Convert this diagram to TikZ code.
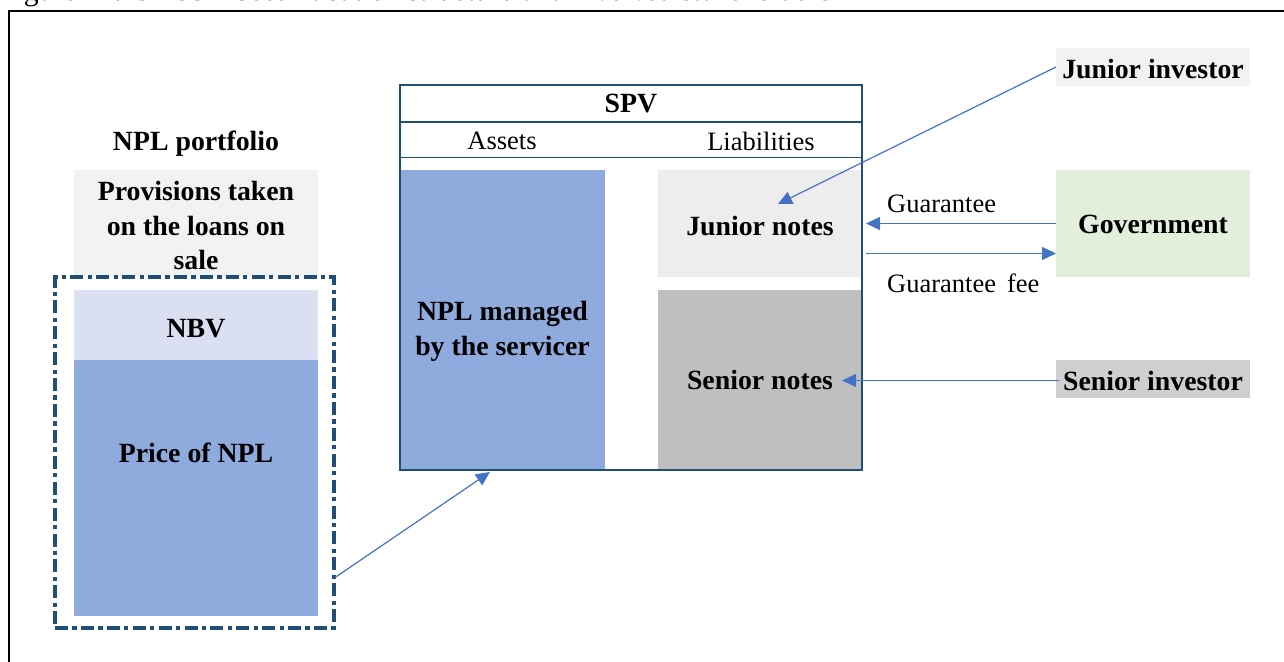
\documentclass[tikz,border=0pt]{standalone}
\usepackage{fontspec}
\setmainfont{Liberation Serif}
\usetikzlibrary{arrows.meta,calc}
\definecolor{navy}{HTML}{1F4E79}
\definecolor{arrblue}{HTML}{4472C4}
\definecolor{midblue}{HTML}{8FAADC}
\definecolor{paleblue}{HTML}{DAE0F2}
\definecolor{lgray}{HTML}{F2F2F2}
\definecolor{jgray}{HTML}{EDEDED}
\definecolor{sgray}{HTML}{BFBFBF}
\definecolor{sigray}{HTML}{D0CECE}
\definecolor{lgreen}{HTML}{E2EFDA}
\newcommand{\mysize}{\fontsize{26.5}{34.5}\selectfont}
\newcommand{\mybold}{\fontsize{27.8}{34.5}\selectfont\bfseries}
\newcommand{\lowered}[2]{\raisebox{-#1pt}[0pt][0pt]{#2}}
\tikzset{
  box/.style={anchor=north west, inner sep=0pt, outer sep=0pt, align=center, font=\mybold},
  arr/.style={draw=arrblue, line width=1.2pt, -{Triangle[length=14pt,width=13pt]}, arrblue},
  lbl/.style={inner sep=0pt, anchor=base west},
}
\begin{document}
\begin{tikzpicture}[x=1pt,y=-1pt,font=\mysize]
\useasboundingbox (0,0) rectangle (1284,661);
% caption (cut off by page top)
\node[lbl, font=\fontsize{29.7}{34}\selectfont] (cap) at (-1,0.5) {Figure 21: \textit{GACS – Securitisation structure and involved stakeholders}};
% outer frame
\draw[line width=2pt] (9,680) -- (9,11) -- (1300,11);

% NPL portfolio
\node[font=\mybold, inner sep=0pt] (nplp) at (196,144) {NPL portfolio};
\node[box, fill=lgray, minimum width=244pt, minimum height=107pt] (prov) at (74,170) {};
\node[font=\mybold, align=center, inner sep=0pt] (provt) at (196,225.5) {Provisions taken\\on the loans on\\sale};
\node[box, fill=midblue, minimum width=244pt, minimum height=326pt] (price) at (74,290) {Price of NPL};
\node[box, fill=paleblue, minimum width=244pt, minimum height=70pt] (nbv) at (74,290) {\lowered{12.2}{NBV}};
\node[box, draw=navy, line width=3.2pt, dash pattern=on 13pt off 4.3pt on 4.3pt off 4.3pt, minimum width=279pt, minimum height=351pt] (pf) at (55,277) {};

% SPV
\node[box, fill=midblue, minimum width=205pt, minimum height=300pt] (npl) at (400,170) {};
\node[font=\mybold, align=center, inner sep=0pt] (nplt) at (502.5,331.5) {NPL managed\\by the servicer};
\node[box, fill=jgray, minimum width=204pt, minimum height=107pt] (jn) at (658,170) {\lowered{11.7}{Junior notes}};
\node[box, fill=sgray, minimum width=204pt, minimum height=180pt] (sn) at (658,290) {Senior notes};
\node[box, draw=navy, line width=1.8pt, minimum width=462pt, minimum height=385pt] (spv) at (400,85) {};
\draw[navy, line width=1.8pt] (spv.west |- 0,122) -- (spv.east |- 0,122);
\draw[navy, line width=1.8pt] (spv.west |- 0,157.5) -- (spv.east |- 0,157.5);
\node[font=\mybold, inner sep=0pt] (spvt) at (631,104) {SPV};
\node[inner sep=0pt] (assets) at (502,141) {Assets};
\node[inner sep=0pt] (liab) at (761,141) {Liabilities};

% stakeholders
\node[box, fill=lgray, minimum width=194pt, minimum height=38pt] (ji) at (1056,48) {\lowered{11.2}{Junior investor}};
\node[box, fill=lgreen, minimum width=194pt, minimum height=107pt] (gov) at (1056,170) {\lowered{10.2}{Government}};
\node[box, fill=sigray, minimum width=194pt, minimum height=38pt] (si) at (1056,360) {\lowered{11.2}{Senior investor}};

% connectors
\coordinate (jtip) at (778,204);
\draw[arr] (ji.west) -- (jtip);
\coordinate (gtip) at (866,223.5);
\draw[arr] (gov.west |- gtip) -- (gtip);
\coordinate (ftail) at (866,253.5);
\draw[arr] (ftail) -- (gov.west |- ftail);
\coordinate (stip) at (842,380.5);
\draw[arr] ($(si.west |- stip)+(3,0)$) -- (stip);
\coordinate (ptail) at (335,577.5);
\coordinate (ptip) at (490,472);
\draw[arr] (ptail) -- (ptip);
\node[lbl] (guar) at (887,212.5) {Guarantee};
\node[lbl] (gfee) at (887,292.5) {Guarantee\, fee};
\end{tikzpicture}
\end{document}
